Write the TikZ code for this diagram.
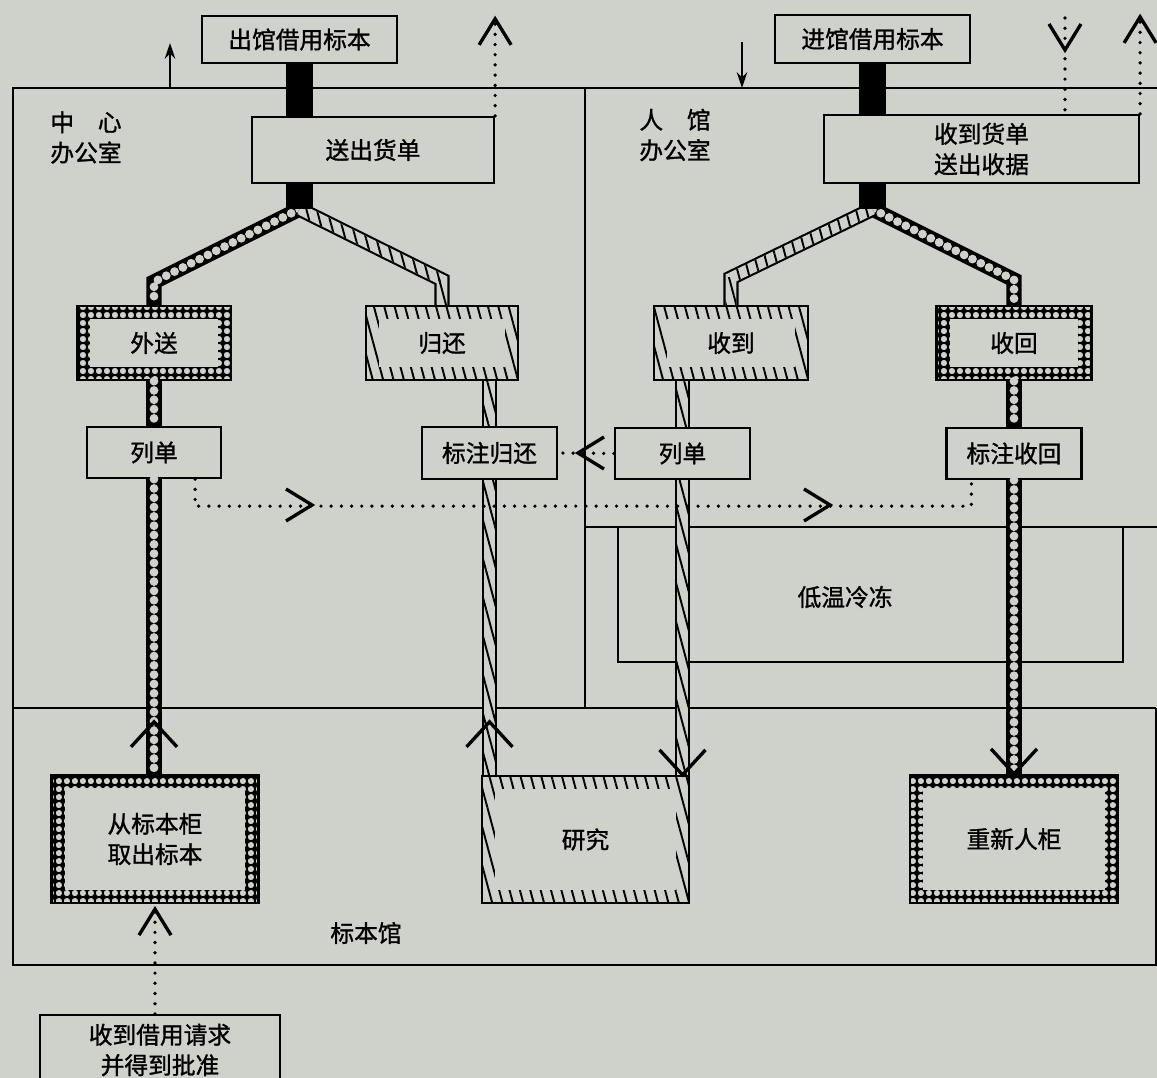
\documentclass[tikz,border=0pt]{standalone}
\usepackage{fontspec}
\newfontfamily\cjk[FakeBold=1.2]{Noto Sans CJK SC}
\usepackage{tikz}
\usetikzlibrary{calc, patterns, patterns.meta, arrows.meta}
\definecolor{paper}{RGB}{207,209,203}
\pgfdeclarepatternformonly{beads}{\pgfqpoint{0pt}{0pt}}{\pgfqpoint{4.5pt}{4.5pt}}{\pgfqpoint{4.5pt}{4.5pt}}{%
  \pgfpathrectangle{\pgfqpoint{0pt}{0pt}}{\pgfqpoint{4.5pt}{4.5pt}}%
  \pgfpathcircle{\pgfqpoint{2.25pt}{2.25pt}}{1.85pt}%
  \pgfseteorule
  \pgfusepath{fill}%
}
\tikzset{>={Stealth[length=9pt,width=6pt]}}
\tikzset{
  txt/.style={font=\cjk\fontsize{13.5}{17.3}\selectfont, align=center},
  plainbox/.style={txt, draw, line width=1.3pt, inner sep=0pt},
  beadbox/.style={plainbox, path picture={
      \fill[pattern=beads] (path picture bounding box.south west) rectangle (path picture bounding box.north east);
      \fill[paper] ([shift={(7.4pt,7.4pt)}]path picture bounding box.south west) rectangle ([shift={(-7.4pt,-7.4pt)}]path picture bounding box.north east);}},
  hatchbox/.style={plainbox, path picture={
      \fill[pattern={Lines[angle=-75,distance=5.7pt,line width=1.1pt]}] (path picture bounding box.south west) rectangle (path picture bounding box.north east);
      \fill[paper] ([shift={(7.4pt,7.4pt)}]path picture bounding box.south west) rectangle ([shift={(-7.4pt,-7.4pt)}]path picture bounding box.north east);}},
  wall/.style={line width=1.5pt},
  stem/.style={line width=15.3pt},
  pipebody/.style={draw=black, line width=8.6pt, line join=miter, postaction={draw=paper, line width=6.2pt}},
  beadpipe/.style={draw=black, line width=8.6pt, line join=miter, postaction={draw=paper, line width=5pt, line cap=round, dash pattern=on 0pt off 5.3pt}},
  dotline/.style={line width=2.1pt, line cap=round, dash pattern=on 0pt off 5.8pt},
  flag/.style={line width=1.5pt, ->},
  bigchev/.pic={\draw[line width=1.9pt] (-23,25) -- (0,0) -- (23,25);},
  smallchev/.pic={\draw[line width=1.9pt] (-16,26) -- (0,0) -- (16,26);},
}
\newcommand{\hatchseg}[2]{%
  \fill[pattern={Lines[angle=-75,distance=5.7pt,line width=1.1pt]}]
    ($#1!3.1pt!90:#2$) -- ($#2!3.1pt!-90:#1$) -- ($#2!3.1pt!90:#1$) -- ($#1!3.1pt!-90:#2$) -- cycle;}

\begin{document}
\begin{tikzpicture}[x=0.02cm, y=-0.02cm]
\fill[paper] (0,0) rectangle (1157,1078);
\useasboundingbox (0,0) rectangle (1157,1078);

\draw[wall] (1157,88) -- (13,88) -- (13,965) -- (1156,965) -- (1156,708);
\draw[wall] (13,708) -- (1156,708);
\draw[wall] (585,88) -- (585,708);
\draw[wall] (585,527) -- (1157,527);
\draw[wall] (618,527) -- (618,662) -- (1123,662) -- (1123,527);

\node[plainbox, minimum width=3.9cm, minimum height=0.94cm] (outbox) at (299.5,39.5) {出馆借用标本};
\node[plainbox, minimum width=3.9cm, minimum height=0.96cm] (inbox) at (872.5,39) {进馆借用标本};
\node[plainbox, minimum width=4.84cm, minimum height=1.32cm] (sendbill) at (373,150) {送出货单};
\node[plainbox, minimum width=6.3cm, minimum height=1.36cm] (recvbill) at (981.5,149) {收到货单\\送出收据};
\node[beadbox, minimum width=3.08cm, minimum height=1.48cm] (sendout) at (154,343) {外送};
\node[hatchbox, minimum width=3.04cm, minimum height=1.48cm] (giveback) at (442,343) {归还};
\node[hatchbox, minimum width=3.08cm, minimum height=1.48cm] (received) at (731,343) {收到};
\node[beadbox, minimum width=3.1cm, minimum height=1.48cm] (takeback) at (1014,343) {收回};
\node[plainbox, minimum width=2.68cm, minimum height=1.02cm] (listL) at (154,452.5) {列单};
\node[plainbox, minimum width=2.7cm, minimum height=1.04cm] (markback) at (489.5,453) {标注归还};
\node[plainbox, minimum width=2.7cm, minimum height=1.02cm] (listR) at (682.5,453.5) {列单};
\node[plainbox, minimum width=2.7cm, minimum height=1.02cm] (markret) at (1014,453.5) {标注收回};
\node[beadbox, minimum width=4.14cm, minimum height=2.56cm] (fetch) at (155,839) {从标本柜\\取出标本};
\node[hatchbox, minimum width=4.14cm, minimum height=2.54cm] (study) at (585.5,839.5) {研究};
\node[beadbox, minimum width=4.16cm, minimum height=2.56cm] (restore) at (1014,839) {重新人柜};
\node[plainbox, minimum width=4.8cm, minimum height=1.4cm] (request) at (160,1050) {收到借用请求\\并得到批准};

\node[txt, align=left] (centre) at (86,137.5) {中\quad 心\\办公室};
\node[txt, align=left] (inoffice) at (675,135) {人\quad 馆\\办公室};
\node[txt] (cold) at (845,597) {低温冷冻};
\node[txt] (museum) at (366,933) {标本馆};

\coordinate (jl) at ($(sendbill.south -| outbox.south)+(0,25)$);
\coordinate (jlL) at ($(sendout.north)+(0,-23)$);
\coordinate (jlR) at ($(giveback.north)+(0,-25)$);
\coordinate (jr) at ($(recvbill.south -| inbox.south)+(0,25)$);
\coordinate (jrL) at ($(received.north)+(0,-27)$);
\coordinate (jrR) at ($(takeback.north)+(0,-25)$);
\coordinate (gbfoot) at (giveback.south -| markback.north);
\coordinate (stL) at (markback.south |- study.north);
\coordinate (rcfoot) at (received.south -| listR.north);
\coordinate (stR) at (listR.south |- study.north);
\coordinate (ftop) at (listL.south |- fetch.north);

\draw[beadpipe] (jl) -- (jlL) -- (sendout.north);
\draw[beadpipe] (sendout.south) -- (listL.north);
\draw[beadpipe] (listL.south) -- (ftop);
\draw[beadpipe] (jr) -- (jrR) -- (takeback.north);
\draw[beadpipe] (takeback.south) -- (markret.north);
\draw[beadpipe] (markret.south) -- (restore.north);

\draw[pipebody] (jl) -- (jlR) -- (giveback.north);
\draw[pipebody] (gbfoot) -- (markback.north);
\draw[pipebody] (markback.south) -- (stL);
\draw[pipebody] (jr) -- (jrL) -- (received.north);
\draw[pipebody] (rcfoot) -- (listR.north);
\draw[pipebody] (listR.south) -- (stR);
\hatchseg{(jl)}{(jlR)}
\hatchseg{(jlR)}{(giveback.north)}
\hatchseg{(gbfoot)}{(markback.north)}
\hatchseg{(markback.south)}{(stL)}
\hatchseg{(jr)}{(jrL)}
\hatchseg{(jrL)}{(received.north)}
\hatchseg{(rcfoot)}{(listR.north)}
\hatchseg{(listR.south)}{(stR)}

\draw[stem] (outbox.south) -- (outbox.south |- sendbill.north);
\draw[stem] (sendbill.south -| outbox.south) -- (jl);
\draw[stem] (inbox.south) -- (inbox.south |- recvbill.north);
\draw[stem] (recvbill.south -| inbox.south) -- (jr);

\pic at ($(ftop)+(0,-52)$) {bigchev};
\pic at ($(stL)+(0,-53)$) {bigchev};
\pic[rotate=180] at (stR) {bigchev};
\pic[rotate=180] at (restore.north) {bigchev};

\coordinate (sendtip) at ($(sendbill.north east)+(0,-97)$);
\draw[dotline] (sendbill.north east) -- (sendtip);
\pic at (sendtip) {smallchev};
\coordinate (rcvtip) at ($(recvbill.north east)+(0,-97)$);
\draw[dotline] (recvbill.north east) -- (rcvtip);
\pic at (rcvtip) {smallchev};
\coordinate (billin) at (1065,18);
\draw[dotline] (billin) -- (billin |- recvbill.north);
\pic[rotate=180] at ($(billin)+(0,32)$) {smallchev};
\draw[dotline] (fetch.south |- request.north) -- (fetch.south);
\pic at ($(fetch.south)+(0,5)$) {smallchev};
\draw[dotline] ([shift={(-27,0)}]listL.south east) -- ++(0,27) -| ([shift={(26,0)}]markret.south west);
\pic[rotate=-90] at (312,505) {smallchev};
\pic[rotate=-90] at (830,505) {smallchev};
\draw[dotline] (listR.west) -- (markback.east);
\pic[rotate=90] at (578,453) {smallchev};

\coordinate (outfoot) at (170,88);
\coordinate (outtip) at (170,43);
\draw[flag] (outfoot) -- (outtip);
\coordinate (intail) at (742,42);
\coordinate (inhead) at (742,88);
\draw[flag] (intail) -- (inhead);
\end{tikzpicture}
\end{document}
